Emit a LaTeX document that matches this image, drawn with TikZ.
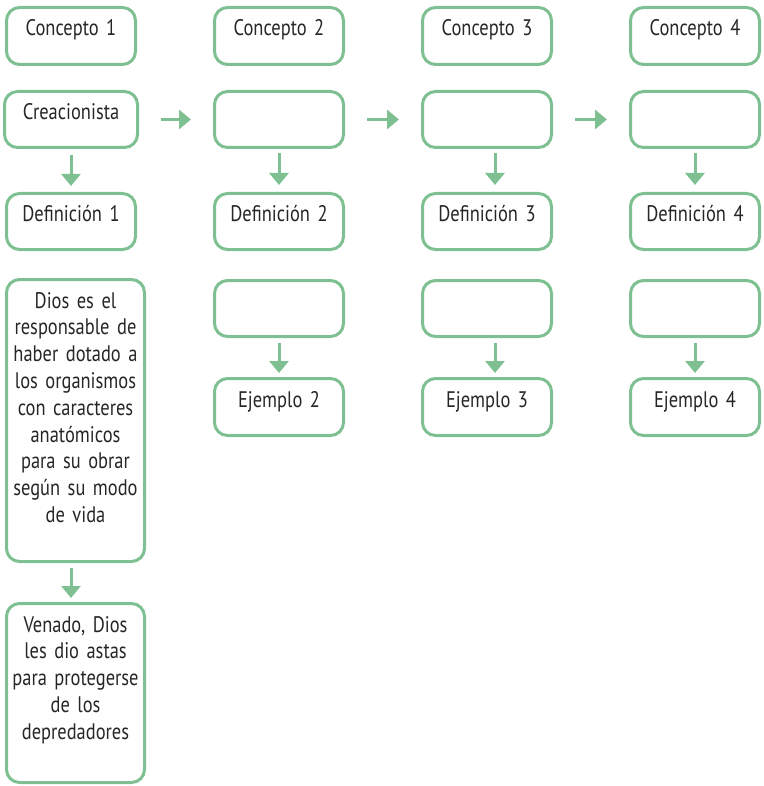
\documentclass[tikz,border=0pt]{standalone}
\usepackage{fontspec}
\setmainfont{PT Sans}[FakeStretch=0.82, WordSpace=0.7, Numbers=Proportional]
\usepackage{tikz}
\usetikzlibrary{arrows.meta}
\definecolor{leaf}{RGB}{126,192,146}

\begin{document}
\begin{tikzpicture}[x=1pt, y=-1pt,
    box/.style={draw=leaf, line width=3pt, rounded corners=13pt, inner sep=0pt, anchor=north,
        align=center, text width=129pt, text height=28.5pt, text depth=28.5pt, text=black!85,
        font=\fontsize{22.5}{26.8}\selectfont},
    arr/.style={draw=leaf, line width=3pt, -{Triangle[width=19pt,length=12pt]}}]
    \useasboundingbox (0,0) rectangle (763,786);
    \node[box] (concepto1) at (71,6) {Concepto 1};
    \node[box, text width=133pt, text depth=27.5pt] (idea1) at (71,90) {Creacionista};
    \node[box, text depth=27.5pt] (def1) at (71,192) {Definición 1};
    \node[box, text width=138pt, text depth=253.5pt] (texto1) at (75.5,278)
        {Dios es el\\responsable de\\haber dotado a\\los organismos\\con caracteres\\anatómicos\\para su obrar\\según su modo\\de vida};
    \node[box, text width=138pt, text depth=150.5pt] (ejemplo1) at (75.5,602)
        {Venado, Dios\\les dio astas\\para protegerse\\de los\\depredadores};
    \draw[arr, shorten <=6pt, shorten >=6pt] (idea1.south) -- (def1.north);
    \draw[arr, shorten <=5pt, shorten >=4pt] (texto1.south -| idea1) -- (ejemplo1.north -| idea1);
    \foreach \dx/\j[count=\i from 2] in {0/1, 8/2, 0/3}
    {
        \node[box] (concepto\i) at (71+208*\i-208, 6) {Concepto \i};
        \node[box, text depth=27.5pt] (idea\i) at (71+208*\i-208, 90) {};
        \node[box, text depth=27.5pt] (def\i) at (71+208*\i-208, 192) {Definición \i};
        \node[box, text depth=27.5pt] (texto\i) at (71+208*\i-208, 279) {};
        \node[box] (ejemplo\i) at (71+208*\i-208, 377) {Ejemplo \i};
        \draw[arr] ([xshift=22pt]idea\j.east) -- ([xshift=-22pt]idea\i.west);
        \draw[arr, shorten <=4pt, shorten >=7pt] ([xshift=\dx pt]idea\i.south) -- ([xshift=\dx pt]def\i.north);
        \draw[arr, shorten <=5pt, shorten >=4pt] ([xshift=\dx pt]texto\i.south) -- ([xshift=\dx pt]ejemplo\i.north);
    }
\end{tikzpicture}
\end{document}
